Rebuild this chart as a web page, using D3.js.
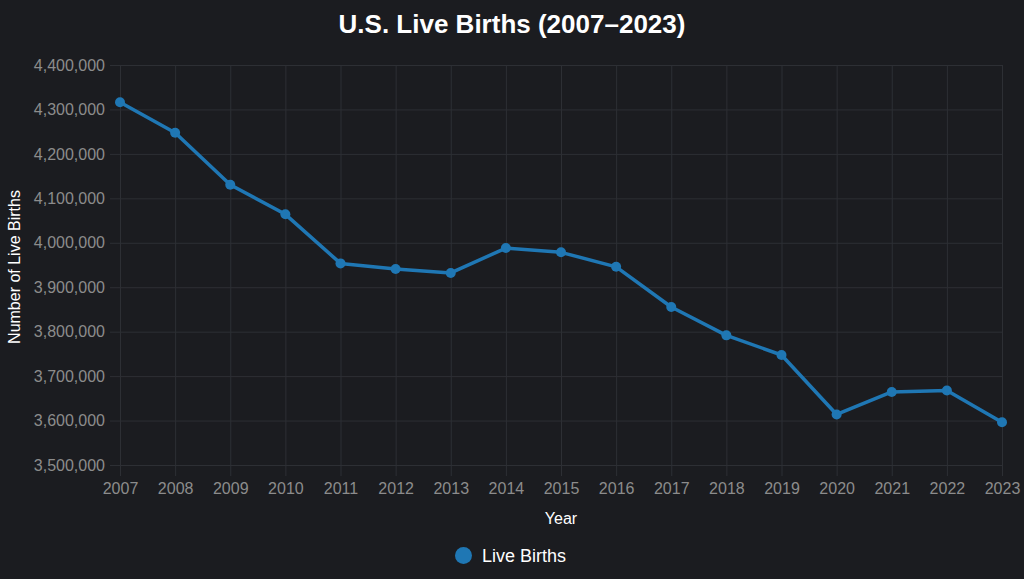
<!DOCTYPE html>
<html>
<head>
<meta charset="utf-8">
<script src="https://cdn.jsdelivr.net/npm/d3@7"></script>
<style>
  html, body { margin: 0; padding: 0; background: #1b1c20; }
  svg { display: block; font-family: "Liberation Sans", Arial, sans-serif; }
</style>
</head>
<body>
<svg id="chart"></svg>
<script>
// Data
const years = [2007, 2008, 2009, 2010, 2011, 2012, 2013, 2014, 2015,
               2016, 2017, 2018, 2019, 2020, 2021, 2022, 2023];
const births = [4316233, 4247694, 4130665, 4064000, 3953590, 3941000, 3932181, 3988076, 3978497,
                3945875, 3855500, 3791712, 3747540, 3613647, 3664292, 3667758, 3596017];
const yTicks = [3500000, 3600000, 3700000, 3800000, 3900000, 4000000, 4100000, 4200000, 4300000, 4400000];

// Constants
const width = 1024;
const height = 579;
const plotLeft = 120, plotRight = 1002, plotTop = 65, plotBottom = 465;
const lineColor = "#1f77b4";
const gridColor = "#2d2f34";
const tickColor = "#8c8c8c";

const svg = d3.select("#chart")
    .attr("width", width)
    .attr("height", height);

svg.append("rect")
    .attr("width", width)
    .attr("height", height)
    .attr("fill", "#1b1c20");

// Scales
const xScale = d3.scaleLinear()
    .domain(d3.extent(years))
    .range([plotLeft, plotRight]);

const yScale = d3.scaleLinear()
    .domain([3500000, 4400000])
    .range([plotBottom, plotTop]);

// Axes (ticks double as grid lines)
const xAxis = d3.axisBottom(xScale)
    .tickValues(years)
    .tickFormat(d3.format("d"))
    .tickSize(-(plotBottom - plotTop) - 11)
    .tickPadding(7)
    .tickSizeOuter(0);

const yAxis = d3.axisLeft(yScale)
    .tickValues(yTicks)
    .tickFormat(d3.format(","))
    .tickSize(-(plotRight - plotLeft) - 10)
    .tickPadding(5)
    .tickSizeOuter(0);

const gx = svg.append("g")
    .attr("transform", `translate(0,${plotBottom + 11})`)
    .call(xAxis);

const gy = svg.append("g")
    .attr("transform", `translate(${plotLeft - 10},0)`)
    .call(yAxis);

[gx, gy].forEach(g => {
  g.select(".domain").remove();
  g.selectAll(".tick line").attr("stroke", gridColor).attr("stroke-width", 1);
  g.selectAll(".tick text")
      .attr("fill", tickColor)
      .attr("font-size", "16px")
      .attr("font-family", "Liberation Sans, Arial, sans-serif");
});

// Line + points
const line = d3.line()
    .x((d, i) => xScale(years[i]))
    .y(d => yScale(d));

svg.append("path")
    .datum(births)
    .attr("fill", "none")
    .attr("stroke", lineColor)
    .attr("stroke-width", 3.5)
    .attr("stroke-linejoin", "round")
    .attr("d", line);

svg.append("g")
  .selectAll("circle")
  .data(births)
  .enter()
    .append("circle")
    .attr("cx", (d, i) => xScale(years[i]))
    .attr("cy", d => yScale(d))
    .attr("r", 5)
    .attr("fill", lineColor);

// Titles
svg.append("text")
    .attr("x", width / 2)
    .attr("y", 33)
    .style("text-anchor", "middle")
    .attr("font-size", "26px")
    .attr("font-weight", "bold")
    .attr("fill", "#ffffff")
    .text("U.S. Live Births (2007\u20132023)");

svg.append("text")
    .attr("x", (plotLeft + plotRight) / 2)
    .attr("y", 524)
    .style("text-anchor", "middle")
    .attr("font-size", "16px")
    .attr("fill", "#ffffff")
    .text("Year");

svg.append("text")
    .attr("transform", `translate(20,${(plotTop + plotBottom) / 2 + 2}) rotate(-90)`)
    .style("text-anchor", "middle")
    .attr("font-size", "16px")
    .attr("fill", "#ffffff")
    .text("Number of Live Births");

// Legend
svg.append("circle")
    .attr("cx", 463.5)
    .attr("cy", 555.5)
    .attr("r", 8.5)
    .attr("fill", lineColor);

svg.append("text")
    .attr("x", 482)
    .attr("y", 562)
    .attr("font-size", "18px")
    .attr("fill", "#ffffff")
    .text("Live Births");
</script>
</body>
</html>
